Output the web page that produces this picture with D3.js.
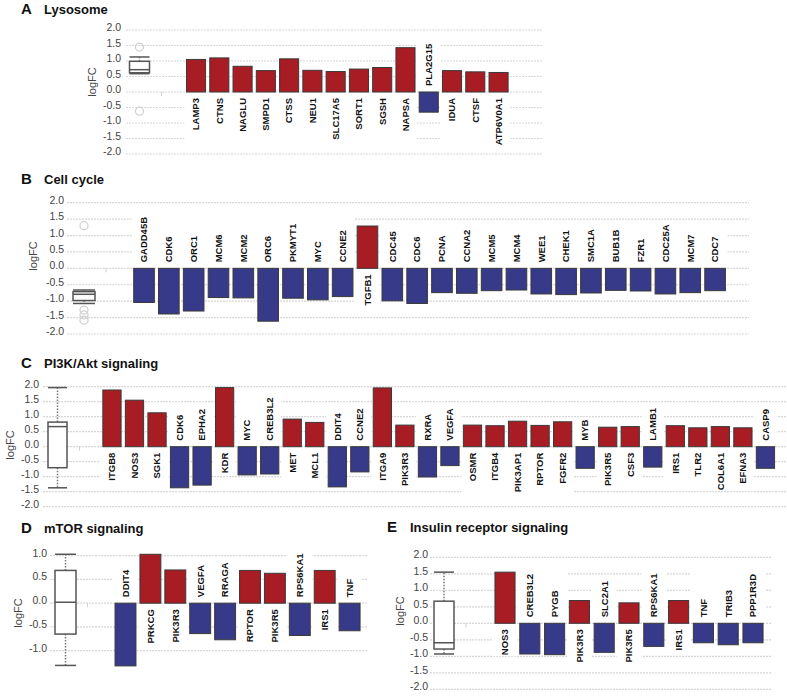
<!DOCTYPE html>
<meta charset='utf-8'>
<style>
    html, body {
        margin: 0;
        background: white;
    }

    svg, .axis text {
        font-family: 'Liberation Sans', Arial, sans-serif;
    }

    .grid line {
        stroke: #d6d6d6;
        stroke-width: 1.2;
        stroke-dasharray: 2, 1;
    }

    .axis text {
        fill: #444;
        font-size: 10.5px;
    }

    .ylab {
        fill: #444;
        font-size: 11px;
    }

    .gene {
        font-size: 9.5px;
        font-weight: bold;
        fill: #111;
    }

    .title {
        font-size: 13px;
        font-weight: bold;
        fill: #111;
    }

    .letter {
        font-size: 15px;
        font-weight: bold;
        fill: #111;
    }

    .bar {
        stroke: #3a3a3a;
        stroke-width: 1;
    }

    .up {
        fill: #a81c24;
    }

    .down {
        fill: #363a88;
    }

    .box {
        fill: white;
        stroke: #555;
        stroke-width: 1.5;
    }

    .whisker {
        stroke: #777;
        stroke-width: 1.5;
        stroke-dasharray: 1.5, 1.5;
    }

    .cap, .median {
        stroke: #555;
        stroke-width: 1.5;
    }

    .outlier {
        fill: none;
        stroke: #cfcfcf;
        stroke-width: 1.2;
    }
</style>
<title>logFC by pathway</title>
<body>

<script src='https://d3js.org/d3.v7.min.js'></script>
<script>

	// A: Lysosome
	let lysoGenes = ['LAMP3', 'CTNS', 'NAGLU', 'SMPD1', 'CTSS', 'NEU1', 'SLC17A5', 'SORT1', 'SGSH', 'NAPSA', 'PLA2G15', 'IDUA', 'CTSF', 'ATP6V0A1'];
	let lysoFC = [1.05, 1.10, 0.83, 0.69, 1.07, 0.70, 0.66, 0.74, 0.79, 1.43, -0.65, 0.69, 0.65, 0.63];
	let lysoBox = [0.59, 0.62, 0.72, 0.99, 1.13]; // low whisker, q1, median, q3, high whisker
	let lysoOut = [1.45, -0.62];

	// B: Cell cycle
	let cellGenes = ['GADD45B', 'CDK6', 'ORC1', 'MCM6', 'MCM2', 'ORC6', 'PKMYT1', 'MYC', 'CCNE2', 'TGFB1', 'CDC45', 'CDC6', 'PCNA', 'CCNA2', 'MCM5', 'MCM4', 'WEE1', 'CHEK1', 'SMC1A', 'BUB1B', 'FZR1', 'CDC25A', 'MCM7', 'CDC7'];
	let cellFC = [-1.04, -1.39, -1.30, -0.89, -0.90, -1.61, -0.91, -0.96, -0.86, 1.29, -0.99, -1.07, -0.74, -0.76, -0.68, -0.66, -0.78, -0.80, -0.75, -0.67, -0.69, -0.78, -0.74, -0.68];
	let cellBox = [-1.07, -0.98, -0.79, -0.71, -0.66];
	let cellOut = [1.30, -1.27, -1.42, -1.58];

	// C: PI3K/Akt signaling
	let pi3kGenes = ['ITGB8', 'NOS3', 'SGK1', 'CDK6', 'EPHA2', 'KDR', 'MYC', 'CREB3L2', 'MET', 'MCL1', 'DDIT4', 'CCNE2', 'ITGA9', 'PIK3R3', 'RXRA', 'VEGFA', 'OSMR', 'ITGB4', 'PIK3AP1', 'RPTOR', 'FGFR2', 'MYB', 'PIK3R5', 'CSF3', 'LAMB1', 'IRS1', 'TLR2', 'COL6A1', 'EFNA3', 'CASP9'];
	let pi3kFC = [1.89, 1.55, 1.13, -1.37, -1.28, 1.97, -0.94, -0.91, 0.92, 0.81, -1.34, -0.84, 1.96, 0.72, -1.01, -0.63, 0.72, 0.70, 0.85, 0.71, 0.83, -0.72, 0.65, 0.67, -0.68, 0.70, 0.63, 0.67, 0.63, -0.72];
	let pi3kBox = [-1.37, -0.70, 0.67, 0.82, 1.97];
	let pi3kOut = [];

	// D: mTOR signaling
	let mtorGenes = ['DDIT4', 'PRKCG', 'PIK3R3', 'VEGFA', 'RRAGA', 'RPTOR', 'PIK3R5', 'RPS6KA1', 'IRS1', 'TNF'];
	let mtorFC = [-1.32, 1.03, 0.70, -0.64, -0.77, 0.69, 0.63, -0.68, 0.69, -0.58];
	let mtorBox = [-1.31, -0.65, 0.02, 0.69, 1.03];
	let mtorOut = [];

	// E: Insulin receptor signaling
	let insGenes = ['NOS3', 'CREB3L2', 'PYGB', 'PIK3R3', 'SLC2A1', 'PIK3R5', 'RPS6KA1', 'IRS1', 'TNF', 'TRIB3', 'PPP1R3D'];
	let insFC = [1.55, -0.93, -0.95, 0.69, -0.88, 0.62, -0.70, 0.69, -0.59, -0.65, -0.59];
	let insBox = [-0.93, -0.78, -0.59, 0.67, 1.55];
	let insOut = [];

	let ticksFull = [-2, -1.5, -1, -0.5, 0, 0.5, 1, 1.5, 2];
	let ticksShort = [-1, -0.5, 0, 0.5, 1];

	// layout of each panel
	let panels = [
		{letter: 'A', title: 'Lysosome', genes: lysoGenes, fc: lysoFC, box: lysoBox, out: lysoOut,
			tx: 21, ty: 14, dom: [-2, 2], yr: [154, 30], ticks: ticksFull,
			gx: [126, 542], lx: 121, ylx: 92, yly: 82, bc: 139.5, bw: 20, band: [184.4, 510.2], pad: 0.18},
		{letter: 'B', title: 'Cell cycle', genes: cellGenes, fc: cellFC, box: cellBox, out: cellOut,
			tx: 21, ty: 184, dom: [-2, 2], yr: [334, 202.7], ticks: ticksFull,
			gx: [67, 749], lx: 64, ylx: 33, yly: 256, bc: 84, bw: 22, band: [131.6, 727.5], pad: 0.17},
		{letter: 'C', title: 'PI3K/Akt signaling', genes: pi3kGenes, fc: pi3kFC, box: pi3kBox, out: pi3kOut,
			tx: 21, ty: 368, dom: [-2, 2], yr: [506.7, 386.7], ticks: ticksFull,
			gx: [43, 787], lx: 39, ylx: 10, yly: 445, bc: 57.5, bw: 19, band: [100.7, 776.7], pad: 0.19},
		{letter: 'D', title: 'mTOR signaling', genes: mtorGenes, fc: mtorFC, box: mtorBox, out: mtorOut,
			tx: 21, ty: 533, dom: [-1, 1], yr: [650.7, 555.7], ticks: ticksShort,
			gx: [50, 367], lx: 47, ylx: 18, yly: 613, bc: 65.5, bw: 21, band: [113.05, 362.05], pad: 0.16},
		{letter: 'E', title: 'Insulin receptor signaling', genes: insGenes, fc: insFC, box: insBox, out: insOut,
			tx: 387, ty: 532, dom: [-2, 2], yr: [689.3, 557.3], ticks: ticksFull,
			gx: [430, 772], lx: 428, ylx: 400, yly: 611, bc: 444, bw: 20, band: [492.6, 765.4], pad: 0.19}
	];

	let svg = d3.select('body').append('svg')
		.attr('width', 787)
		.attr('height', 696);

	panels.forEach(function (p) {
		let g = svg.append('g');

		let y = d3.scaleLinear()
			.domain(p.dom)
			.range(p.yr);

		let x = d3.scaleBand()
			.domain(p.genes)
			.range(p.band)
			.paddingInner(p.pad)
			.paddingOuter(p.pad / 2);

		let y0 = y(0);
		let gap = 6;

		g.append('text')
			.attr('class', 'letter')
			.attr('x', p.tx)
			.attr('y', p.ty)
			.text(p.letter);

		g.append('text')
			.attr('class', 'title')
			.attr('x', p.tx + 23)
			.attr('y', p.ty)
			.text(p.title);

		g.append('g')
			.attr('class', 'grid')
			.selectAll('line')
			.data(p.ticks)
			.enter().append('line')
			.attr('x1', p.gx[0])
			.attr('x2', p.gx[1])
			.attr('y1', function (d) { return y(d); })
			.attr('y2', function (d) { return y(d); });

		let ax = g.append('g')
			.attr('class', 'axis')
			.attr('transform', 'translate(' + p.lx + ',0)')
			.call(d3.axisLeft(y)
				.tickValues(p.ticks)
				.tickSize(0)
				.tickPadding(0)
				.tickFormat(function (d) { return d.toFixed(1); }));
		ax.select('.domain').remove();
		ax.selectAll('text').attr('dy', '0.05em');

		g.append('text')
			.attr('class', 'ylab')
			.attr('transform', 'translate(' + p.ylx + ',' + p.yly + ') rotate(-90)')
			.attr('text-anchor', 'middle')
			.attr('dy', '0.35em')
			.text('logFC');

		// little x tick left over on the zero line
		g.append('line')
			.attr('x1', p.bc + 22).attr('x2', p.bc + 22)
			.attr('y1', y0).attr('y2', y0 + 4)
			.attr('stroke', '#d0d0d0');

		// box plot of all values
		let b = p.box;
		let bx = p.bc - p.bw / 2;
		g.append('line').attr('class', 'whisker')
			.attr('x1', p.bc).attr('x2', p.bc)
			.attr('y1', y(b[3])).attr('y2', y(b[4]));
		g.append('line').attr('class', 'whisker')
			.attr('x1', p.bc).attr('x2', p.bc)
			.attr('y1', y(b[1])).attr('y2', y(b[0]));
		g.selectAll('.cap-' + p.letter)
			.data([b[0], b[4]])
			.enter().append('line')
			.attr('class', 'cap')
			.attr('x1', bx).attr('x2', bx + p.bw)
			.attr('y1', function (d) { return y(d); })
			.attr('y2', function (d) { return y(d); });
		g.append('rect').attr('class', 'box')
			.attr('x', bx).attr('width', p.bw)
			.attr('y', y(b[3])).attr('height', y(b[1]) - y(b[3]));
		g.append('line').attr('class', 'median')
			.attr('x1', bx).attr('x2', bx + p.bw)
			.attr('y1', y(b[2])).attr('y2', y(b[2]));
		g.selectAll('.outlier')
			.data(p.out)
			.enter().append('circle')
			.attr('class', 'outlier')
			.attr('cx', p.bc)
			.attr('cy', function (d) { return y(d); })
			.attr('r', 4);

		let bg = g.append('g');
		let bars = g.append('g');
		let labels = g.append('g');

		let rows = p.genes.map(function (gene, i) { return {gene: gene, v: p.fc[i]}; });

		bars.selectAll('rect')
			.data(rows)
			.enter().append('rect')
			.attr('class', function (d) { return 'bar ' + (d.v >= 0 ? 'up' : 'down'); })
			.attr('x', function (d) { return x(d.gene); })
			.attr('width', x.bandwidth())
			.attr('y', function (d) { return y(Math.max(0, d.v)); })
			.attr('height', function (d) { return Math.abs(y(d.v) - y0); });

		let lab = labels.selectAll('text')
			.data(rows)
			.enter().append('text')
			.attr('class', 'gene')
			.attr('transform', function (d) {
				let cx = x(d.gene) + x.bandwidth() / 2;
				let ly = d.v >= 0 ? y0 + gap : y0 - gap;
				return 'translate(' + cx + ',' + ly + ') rotate(-90)';
			})
			.attr('text-anchor', function (d) { return d.v >= 0 ? 'end' : 'start'; })
			.attr('dy', '0.35em')
			.text(function (d) { return d.gene; });

		// white label backing, one per run of same-sign bars (hides grid behind labels)
		let len = [];
		lab.each(function () { len.push(this.getComputedTextLength()); });
		let step = x.step();
		let runs = [];
		rows.forEach(function (d, i) {
			let s = d.v >= 0;
			let last = runs[runs.length - 1];
			if (last && last.up === s) {
				last.end = i;
				last.len = Math.max(last.len, len[i]);
			} else {
				runs.push({up: s, start: i, end: i, len: len[i]});
			}
		});
		runs.forEach(function (r) {
			let x1 = x(rows[r.start].gene) - step * p.pad / 2;
			let x2 = x(rows[r.end].gene) + x.bandwidth() + step * p.pad / 2;
			let h = gap + r.len;
			bg.append('rect')
				.attr('x', x1)
				.attr('width', x2 - x1)
				.attr('y', r.up ? y0 + 2 : y0 - h - 1)
				.attr('height', h - 1)
				.attr('fill', 'white');
		});
	});

</script>
</body>
